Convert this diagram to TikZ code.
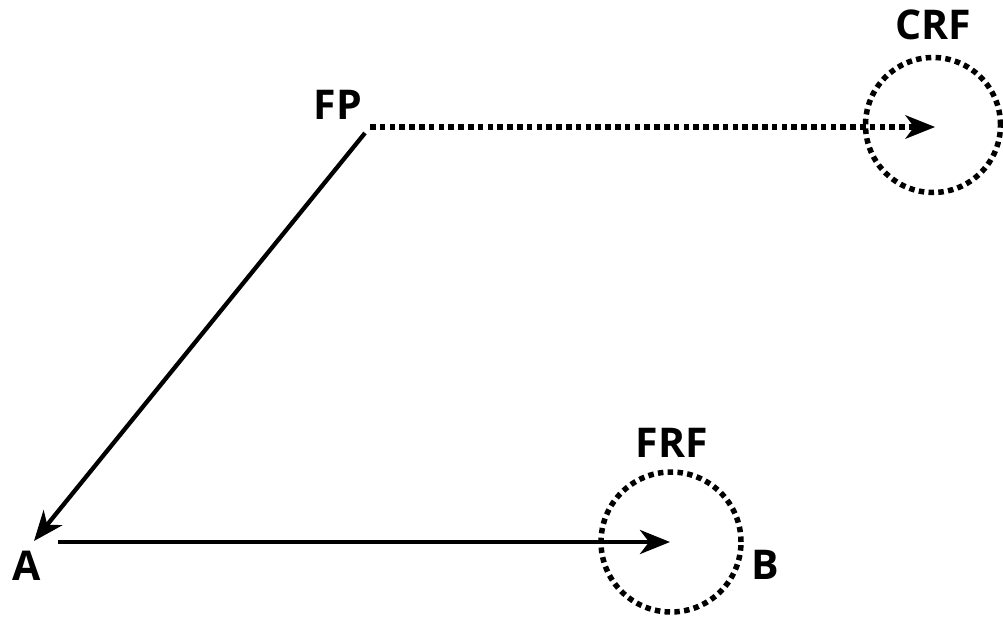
\documentclass[tikz,border=0pt]{standalone}
\usepackage{fontspec}
\setmainfont{Open Sans}
\usetikzlibrary{arrows.meta}
\tikzset{
  lbl/.style={inner sep=0pt, font=\fontsize{41}{41}\selectfont\bfseries},
  ring/.style={circle, draw, line width=5.5pt, dash pattern=on 5.5pt off 4.3pt, inner sep=0pt},
  solidarrow/.style={line width=4.3pt, -{Stealth[length=30pt,width=24pt,inset=9pt]}},
  dotarrow/.style={line width=5.5pt, dash pattern=on 5.5pt off 4.3pt, -{Stealth[length=30pt,width=24pt,inset=9pt,line width=0pt]}}
}
\begin{document}
\begin{tikzpicture}[x=1pt,y=-1pt]
\useasboundingbox (0,0) rectangle (1003,620);
\node[lbl] (FP) at (338,105) {FP};
\node[lbl] (CRF) at (933,25) {CRF};
\node[lbl] (FRF) at (672,443) {FRF};
\node[lbl] (A) at (27,566) {A};
\node[lbl] (B) at (765,565) {B};
\node[ring, minimum size=135pt] (crf) at (933,125) {};
\node[ring, minimum size=140pt] (frf) at (671,542) {};
\coordinate (fps) at (365,133);
\coordinate (fpd) at (370,127);
\coordinate (atip) at (34,541);
\coordinate (astart) at (58,542);
\coordinate (crftip) at (935,127);
\coordinate (frftip) at (670,542);
\draw[solidarrow] (fps) -- (atip);
\draw[solidarrow] (astart) -- (frftip);
\draw[dotarrow] (fpd) -- (crftip);
\end{tikzpicture}
\end{document}
